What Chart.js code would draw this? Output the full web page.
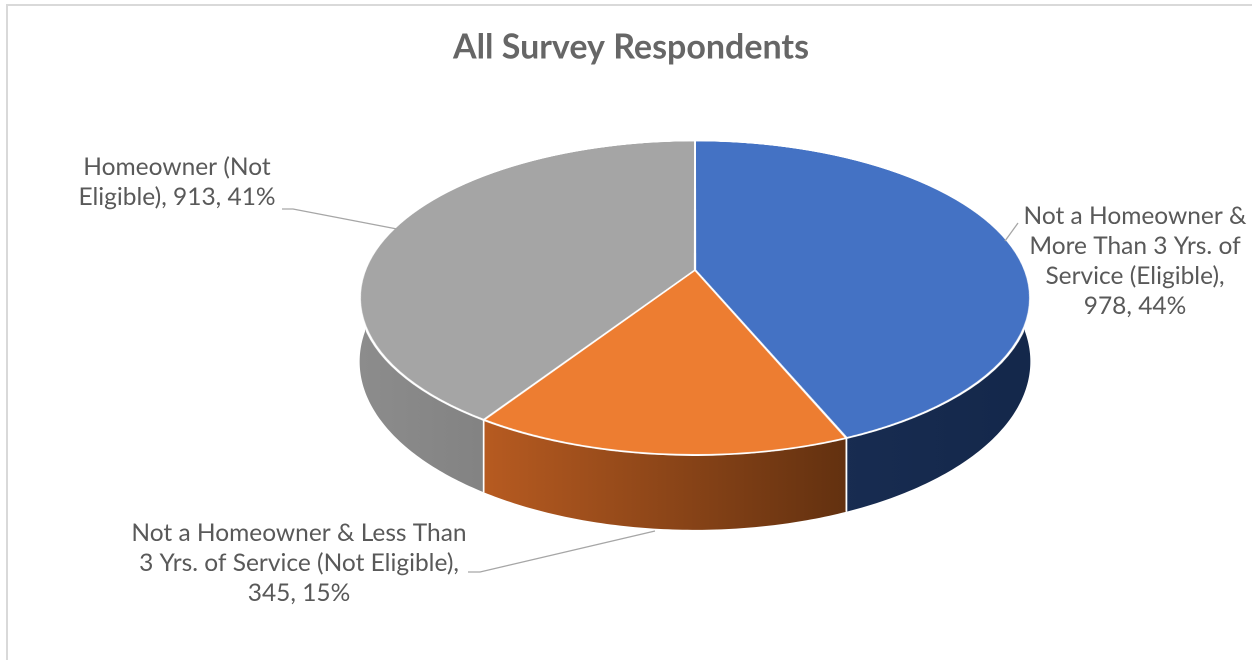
<!DOCTYPE html>
<html><head><meta charset="utf-8">
<script src="https://cdn.jsdelivr.net/npm/chart.js@4.4.1/dist/chart.umd.min.js"></script>
<style>
html,body{margin:0;padding:0;background:#fff;width:1252px;height:660px;overflow:hidden}
#frame{position:absolute;left:6px;top:4px;width:1300px;height:700px;border:2px solid #d9d9d9;box-sizing:border-box}
#c{position:absolute;left:0;top:0}
</style></head><body>
<div id="frame"></div>
<canvas id="c" width="1252" height="660"></canvas>
<script>
// ---- data ----
const categoryLines = [
  ['Not a Homeowner &', 'More Than 3 Yrs. of', 'Service (Eligible)'],
  ['Not a Homeowner & Less Than', '3 Yrs. of Service (Not Eligible)'],
  ['Homeowner (Not', 'Eligible)']
];
const categories = categoryLines.map(l => l.join(' '));
const counts = [978, 345, 913];
const valueOnOwnLine = [true, true, false];
const topColors = ['#4472C4', '#ED7D31', '#A5A5A5'];
const sideColors = [['#182c51', '#14284b'], ['#b75b21', '#633110'], ['#8c8c8c', '#838383']];
const chartTitle = 'All Survey Respondents';

// ---- view / layout ----
const view = {X0: 695, Y0: 270, A: 330, B: 152, p: 0.178, D: 61.6};
function proj(u, v, z) { const w = 1 - view.p * v; return [view.X0 + view.A * u / w, view.Y0 + (view.B * v + view.D * z) / w]; }
function vOfY(Y) { const d = Y - view.Y0; return d / (view.B + view.p * d); }
const spots = [{x: 1135, y: 216}, {x: 299, y: 533}, {x: 177, y: 167}];
const lineH = 30;
const leaders = [
  [[1018, 223], [1005, 241]],
  [[468, 572], [480, 572], [655, 531]],
  [[282, 209], [293, 209], [397, 229]]
];

const tiltPlugin = {
  id: 'tilt',
  afterDatasetsDraw(chart) {
    const ctx = chart.ctx, dpr = chart.currentDevicePixelRatio, a = chart.chartArea;
    const arcs = chart.getDatasetMeta(0).data;
    const cx = arcs[0].x, cy = arcs[0].y, R = arcs[0].outerRadius;
    const sw = Math.round((a.right - a.left) * dpr), sh = Math.round((a.bottom - a.top) * dpr);
    const off = document.createElement('canvas');
    off.width = sw; off.height = sh;
    off.getContext('2d').drawImage(chart.canvas, Math.round(a.left * dpr), Math.round(a.top * dpr), sw, sh, 0, 0, sw, sh);
    ctx.save();
    ctx.clearRect(a.left, a.top, a.right - a.left, a.bottom - a.top);
    // side walls
    arcs.forEach((arc, i) => {
      const lo = Math.max(arc.startAngle, 0), hi = Math.min(arc.endAngle, Math.PI);
      if (hi <= lo) return;
      const N = 80;
      ctx.beginPath();
      for (let k = 0; k <= N; k++) { const t = lo + (hi - lo) * k / N; const p = proj(Math.cos(t), Math.sin(t), 0); k ? ctx.lineTo(p[0], p[1]) : ctx.moveTo(p[0], p[1]); }
      for (let k = N; k >= 0; k--) { const t = lo + (hi - lo) * k / N; const p = proj(Math.cos(t), Math.sin(t), 1); ctx.lineTo(p[0], p[1]); }
      ctx.closePath();
      const xa = proj(Math.cos(hi), Math.sin(hi), 0)[0], xb = proj(Math.cos(lo), Math.sin(lo), 0)[0];
      const g = ctx.createLinearGradient(Math.min(xa, xb), 0, Math.max(xa, xb), 0);
      g.addColorStop(0, sideColors[i][0]); g.addColorStop(1, sideColors[i][1]);
      ctx.fillStyle = g; ctx.fill();
    });
    // white seams on walls
    ctx.strokeStyle = '#ffffff'; ctx.lineWidth = 1.6;
    arcs.forEach(arc => {
      [arc.startAngle, arc.endAngle].forEach(t => {
        if (t > 0.01 && t < Math.PI - 0.01) {
          const p0 = proj(Math.cos(t), Math.sin(t), 0), p1 = proj(Math.cos(t), Math.sin(t), 1);
          ctx.beginPath(); ctx.moveTo(p0[0], p0[1]); ctx.lineTo(p1[0], p1[1]); ctx.stroke();
        }
      });
    });
    // warped top face
    const Rs = R * dpr, sxc = (cx - a.left) * dpr, syc = (cy - a.top) * dpr;
    const uL = -sxc / Rs, uR = (sw - sxc) / Rs;
    const vmax = 1 + 4 / R;
    const Ytop = view.Y0 - view.B * vmax / (1 + view.p * vmax);
    const Ybot = view.Y0 + view.B * vmax / (1 - view.p * vmax);
    const step = 0.5;
    for (let Y = Ytop; Y < Ybot; Y += step) {
      const v0 = vOfY(Y), v1 = vOfY(Y + step);
      const w = 1 - view.p * (v0 + v1) / 2;
      let srcY = syc + v0 * Rs, srcH = (v1 - v0) * Rs;
      if (srcY < 0 || srcY + srcH > sh) continue;
      const dx = view.X0 + view.A * uL / w, dw = view.A * (uR - uL) / w;
      ctx.drawImage(off, 0, srcY, sw, srcH, dx, Y, dw, step + 0.3);
    }
    ctx.restore();
  }
};

const labelPlugin = {
  id: 'sliceLabels',
  afterDraw(chart) {
    const ctx = chart.ctx;
    ctx.save();
    ctx.strokeStyle = '#a6a6a6'; ctx.lineWidth = 1.3;
    leaders.forEach(pts => { ctx.beginPath(); pts.forEach((p, i) => i ? ctx.lineTo(p[0], p[1]) : ctx.moveTo(p[0], p[1])); ctx.stroke(); });
    const total = counts.reduce((s, v) => s + v, 0);
    ctx.fillStyle = '#595959'; ctx.font = '24.5px Lato'; ctx.textAlign = 'center'; ctx.textBaseline = 'middle';
    counts.forEach((v, i) => {
      const pct = Math.round(v / total * 100);
      const lines = categoryLines[i].slice();
      const valTxt = v + ', ' + pct + '%';
      if (valueOnOwnLine[i]) { lines[lines.length - 1] += ','; lines.push(valTxt); }
      else lines[lines.length - 1] += ', ' + valTxt;
      lines.forEach((t, k) => ctx.fillText(t, spots[i].x, spots[i].y + k * lineH));
    });
    ctx.restore();
  }
};

new Chart(document.getElementById('c'), {
  type: 'pie',
  data: {labels: categories, datasets: [{data: counts, backgroundColor: topColors, borderColor: '#ffffff', borderWidth: 2}]},
  options: {
    responsive: false, devicePixelRatio: 2, animation: false, events: [],
    layout: {padding: {left: 10}},
    plugins: {
      legend: {display: false}, tooltip: {enabled: false},
      title: {display: true, text: chartTitle, color: '#666666', font: {family: 'Lato', size: 34, weight: 'bold'}, padding: {top: 27, bottom: 8}}
    }
  },
  plugins: [tiltPlugin, labelPlugin]
});
</script>
</body></html>
